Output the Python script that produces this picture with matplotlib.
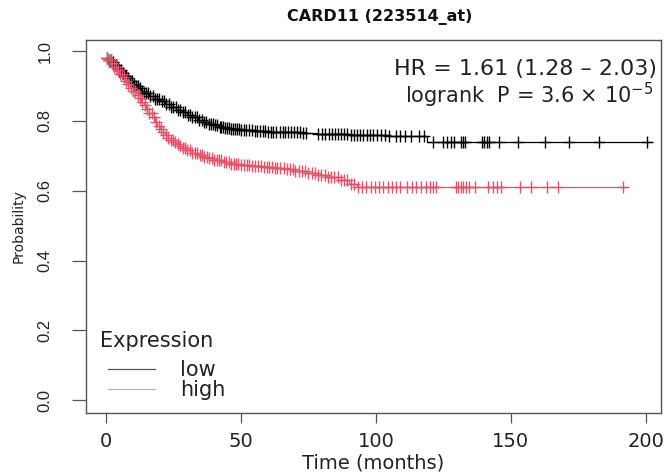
import numpy as np
import matplotlib
matplotlib.use("Agg")
import matplotlib.pyplot as plt

plt.rcParams['font.family'] = ['DejaVu Sans']

# Kaplan-Meier step curves (time in months, survival probability)
low_times = [0, 1, 2, 3, 4, 5, 6, 7, 8, 9, 10, 11, 12, 13, 14, 16, 18, 20, 22, 24,
             26, 28, 30, 32, 34, 36, 38, 40, 42, 44, 46, 50, 55, 60, 66, 72, 78,
             90, 105, 119]
low_surv = [0.98, 0.975, 0.968, 0.96, 0.953, 0.945, 0.937, 0.93, 0.922, 0.915,
            0.907, 0.90, 0.893, 0.887, 0.88, 0.872, 0.864, 0.856, 0.848, 0.84,
            0.832, 0.825, 0.818, 0.811, 0.804, 0.798, 0.792, 0.787, 0.783, 0.779,
            0.776, 0.773, 0.771, 0.769, 0.767, 0.765, 0.762, 0.760, 0.757, 0.740]

high_times = [0, 1, 2, 3, 4, 5, 6, 7, 8, 9, 10, 11, 12, 13, 14, 15, 16, 17, 18, 19,
              20, 21, 22, 23, 24, 25, 26, 27, 28, 30, 32, 34, 36, 38, 40, 43, 46,
              50, 54, 58, 62, 66, 70, 74, 78, 82, 86, 90, 93]
high_surv = [0.98, 0.975, 0.965, 0.955, 0.945, 0.935, 0.925, 0.915, 0.905, 0.895,
             0.885, 0.875, 0.865, 0.855, 0.845, 0.835, 0.822, 0.81, 0.798, 0.786,
             0.776, 0.767, 0.759, 0.752, 0.745, 0.739, 0.733, 0.728, 0.723, 0.716,
             0.709, 0.703, 0.698, 0.693, 0.688, 0.683, 0.678, 0.674, 0.671, 0.668,
             0.665, 0.662, 0.657, 0.652, 0.645, 0.638, 0.63, 0.62, 0.611]

# censored observation times
low_censor = [0.5, 1.2, 1.8, 2.5, 3.1, 3.7, 4.4, 5.0, 5.6, 6.3, 7.0, 7.6, 8.3, 9.0,
              9.6, 10.4, 11.1, 11.8, 12.6, 13.3, 14.1, 14.9, 15.6, 16.4, 17.3, 18.1,
              19.0, 19.8, 20.7, 21.5, 22.4, 23.3, 24.1, 25.0, 25.9, 26.8, 27.6, 28.5,
              29.4, 30.3, 31.1, 32.0, 32.9, 33.7, 34.6, 35.5, 36.3, 37.2, 38.0, 38.9,
              39.7, 40.5, 41.3, 42.1, 42.8, 43.5, 44.2, 44.9, 45.6, 46.3, 47.0, 47.7,
              48.5, 49.3, 50.2, 51.0, 52.0, 53.1, 54.0, 55.2, 56.1, 57.0, 58.0, 59.1,
              60.0, 61.2, 62.0, 63.1, 64.3, 65.5, 66.4, 67.6, 68.5, 69.7, 70.6, 71.8,
              73.0, 74.2, 78.5, 80.0, 81.3, 82.5, 83.6, 84.7, 86.0, 87.1, 88.3, 89.4,
              90.6, 91.8, 93.0, 94.1, 95.3, 96.6, 97.8, 99.0, 100.5, 102.0, 103.4,
              105.0, 107.6, 108.8, 110.7, 112.9, 116.0, 117.8, 121.0, 124.8, 126.3,
              127.8, 128.9, 131.5, 132.2, 133.0, 139.3, 140.0, 141.1, 141.9, 145.6,
              152.6, 162.6, 171.5, 182.6, 200.4]
high_censor = [0.4, 1.0, 1.7, 2.3, 3.0, 3.6, 4.3, 5.1, 5.8, 6.6, 7.4, 8.2, 9.1, 10.0,
               10.8, 11.7, 12.5, 13.4, 14.3, 15.2, 16.0, 16.9, 17.8, 18.7, 19.5, 20.4,
               21.3, 22.2, 23.1, 24.0, 24.8, 25.7, 26.6, 27.5, 28.4, 29.3, 30.2, 31.1,
               32.0, 32.9, 33.8, 34.7, 35.6, 36.5, 37.4, 38.3, 39.2, 40.1, 41.0, 41.9,
               42.8, 43.7, 44.6, 45.5, 46.4, 47.3, 48.2, 49.1, 50.0, 51.0, 52.1, 53.0,
               54.2, 55.3, 56.4, 57.3, 58.5, 59.6, 60.4, 61.5, 62.7, 63.5, 64.6, 65.8,
               67.0, 68.1, 69.3, 70.2, 71.5, 72.6, 73.8, 75.0, 76.3, 77.5, 78.6, 79.8,
               81.0, 82.2, 83.4, 84.6, 85.8, 87.0, 88.1, 89.4, 90.6, 91.8, 93.4, 95.0,
               96.5, 98.0, 99.6, 101.2, 102.7, 104.3, 106.0, 107.5, 109.0, 111.4,
               113.3, 115.0, 116.6, 118.6, 120.0, 121.1, 122.2, 129.6, 130.4, 131.5,
               132.2, 133.3, 134.4, 136.7, 141.5, 143.3, 144.8, 146.3, 153.3, 157.4,
               163.3, 167.4, 191.5]
low_end = 202.0
high_end = 193.0

low_col = '#000000'
high_col = '#DF536B'


def step_value(times, surv, t):
    idx = np.searchsorted(times, t, side='right') - 1
    return np.array(surv)[idx]


fig = plt.figure(figsize=(6.68, 4.75), dpi=100)
ax = fig.add_axes([0.1287, 0.1305, 0.8608, 0.7853])

for times, surv, cens, end, col in [
        (low_times, low_surv, low_censor, low_end, low_col),
        (high_times, high_surv, high_censor, high_end, high_col)]:
    ax.step(list(times) + [end], list(surv) + [surv[-1]], where='post',
            color=col, lw=0.9)
    ax.plot(cens, step_value(times, surv, cens), ls='none', marker='+',
            color=col, ms=8, mew=1.0)

ax.set_xlim(-7.4, 205.6)
ax.set_ylim(-0.037, 1.032)
ax.set_xticks([0, 50, 100, 150, 200])
ax.set_yticks([0.0, 0.2, 0.4, 0.6, 0.8, 1.0])
ax.set_yticklabels(['0.0', '0.2', '0.4', '0.6', '0.8', '1.0'], rotation=90,
                   va='center', family='Liberation Sans', fontsize=12)
ax.tick_params(direction='out', width=0.9, colors='#555555', labelcolor='#222222')
ax.tick_params(axis='x', length=7, pad=7, labelsize=14)
ax.tick_params(axis='y', length=10, pad=14)
for s in ax.spines.values():
    s.set_color('#555555')
    s.set_linewidth(1.0)

ax.set_xlabel('Time (months)', fontsize=14, color='#222222')
ax.xaxis.set_label_coords(0.5, -0.108)
ax.set_ylabel('Probability', fontsize=10, color='#222222')
ax.yaxis.set_label_coords(-0.105, 0.5)
fig.text(0.569, 0.956, 'CARD11 (223514_at)', ha='center', va='baseline',
         fontsize=11.5, fontweight='bold', color='#111111')

ax.text(0.993, 0.906, 'HR = 1.61 (1.28 \u2013 2.03)', transform=ax.transAxes,
        ha='right', va='baseline', fontsize=16, color='#222222')
ax.text(0.986, 0.831, r'logrank  P = 3.6 $\times$ 10$^{-5}$', transform=ax.transAxes,
        ha='right', va='baseline', fontsize=15, color='#222222')

# legend drawn in axes fraction
ax.text(0.0243, 0.177, 'Expression', transform=ax.transAxes, ha='left',
        va='baseline', fontsize=15, color='#222222')
ax.plot([0.0383, 0.12], [0.118, 0.118], transform=ax.transAxes,
        color='#555555', lw=0.9)
ax.plot([0.0383, 0.12], [0.064, 0.064], transform=ax.transAxes,
        color='#E8A0B0', lw=0.9)
ax.text(0.163, 0.099, 'low', transform=ax.transAxes, ha='left',
        va='baseline', fontsize=15, color='#222222')
ax.text(0.163, 0.0456, 'high', transform=ax.transAxes, ha='left',
        va='baseline', fontsize=15, color='#222222')

fig.savefig('out.png', dpi=100)
